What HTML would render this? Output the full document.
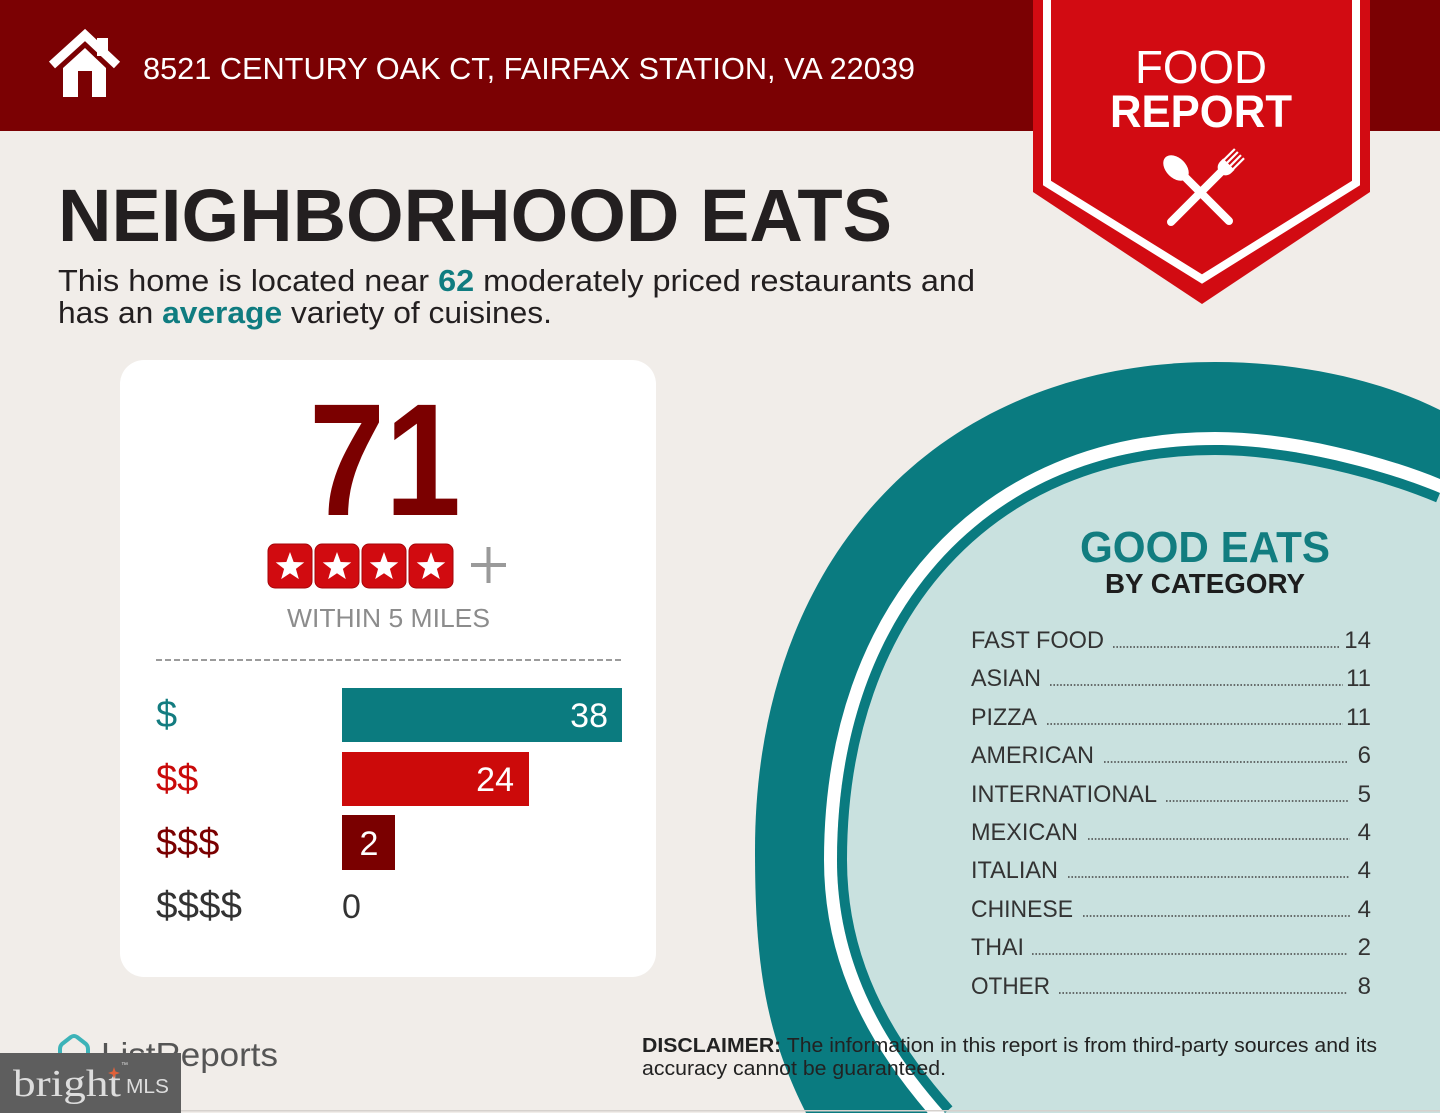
<!DOCTYPE html>
<html>
<head>
<meta charset="utf-8">
<style>
html,body{margin:0;padding:0;background:#f1ede9;width:1440px;height:1113px;overflow:hidden;}
svg{display:block}
</style>
</head>
<body>
<svg width="1440" height="1113" viewBox="0 0 1440 1113" xmlns="http://www.w3.org/2000/svg" font-family="'Liberation Sans', Arial, sans-serif">
  <defs>
    <clipPath id="inner">
      <path d="M945,1113 C880,1040 837,960 837,860 C837,611 988.2,445 1215,445 C1290,445 1380,468 1440,493 L1440,1113 Z"/>
    </clipPath>
  </defs>
  <!-- background -->
  <rect width="1440" height="1113" fill="#f1ede9"/>
  <!-- header -->
  <rect width="1440" height="131" fill="#7b0103"/>
  <!-- house icon -->
  <polyline points="52,65 85,35 117,65" fill="none" stroke="#ffffff" stroke-width="9" stroke-linejoin="miter"/>
  <rect x="97" y="38" width="11" height="18" fill="#ffffff"/>
  <polygon points="63,68 85,48 106,68 106,97 92,97 92,71 78,71 78,97 63,97" fill="#ffffff"/>
  <text x="143" y="79" font-size="31" fill="#ffffff" textLength="772" lengthAdjust="spacingAndGlyphs">8521 CENTURY OAK CT, FAIRFAX STATION, VA 22039</text>

  <!-- badge -->
  <polygon points="1033,0 1370,0 1370,192 1202,304 1033,192" fill="#d20b12"/>
  <polyline points="1047,0 1047,183 1202,279 1356,183 1356,0" fill="none" stroke="#ffffff" stroke-width="8"/>
  <text x="1135" y="83" font-size="46" fill="#ffffff" textLength="132" lengthAdjust="spacingAndGlyphs">FOOD</text>
  <text x="1110" y="127" font-size="45" font-weight="bold" fill="#ffffff" textLength="182" lengthAdjust="spacingAndGlyphs">REPORT</text>
  <!-- spoon -->
  <line x1="1186" y1="178" x2="1229" y2="221" stroke="#ffffff" stroke-width="8" stroke-linecap="round"/>
  <ellipse cx="1176" cy="168" rx="10" ry="15" transform="rotate(-45 1176 168)" fill="#ffffff"/>
  <!-- fork -->
  <line x1="1171" y1="222" x2="1222" y2="171" stroke="#ffffff" stroke-width="8" stroke-linecap="round"/>
  <g transform="translate(1226,167) rotate(45)">
    <path d="M-8,-4 L8,-4 L8,0 Q8,7 0,9 Q-8,7 -8,0 Z" fill="#ffffff"/>
    <line x1="-6.5" y1="-3" x2="-6.5" y2="-19" stroke="#ffffff" stroke-width="2.2"/>
    <line x1="-2.2" y1="-3" x2="-2.2" y2="-19" stroke="#ffffff" stroke-width="2.2"/>
    <line x1="2.2" y1="-3" x2="2.2" y2="-19" stroke="#ffffff" stroke-width="2.2"/>
    <line x1="6.5" y1="-3" x2="6.5" y2="-19" stroke="#ffffff" stroke-width="2.2"/>
  </g>

  <!-- headline -->
  <text x="58" y="241" font-size="74" font-weight="bold" fill="#231f20" textLength="834" lengthAdjust="spacingAndGlyphs">NEIGHBORHOOD EATS</text>
  <text x="58" y="291" font-size="31" fill="#231f20" textLength="917" lengthAdjust="spacingAndGlyphs">This home is located near <tspan font-weight="bold" fill="#0f7c80">62</tspan> moderately priced restaurants and</text>
  <text x="58" y="323" font-size="31" fill="#231f20" textLength="494" lengthAdjust="spacingAndGlyphs">has an <tspan font-weight="bold" fill="#0f7c80">average</tspan> variety of cuisines.</text>

  <!-- card -->
  <rect x="120" y="360" width="536" height="617" rx="24" ry="24" fill="#ffffff"/>
  <text x="309" y="515" font-size="160" font-weight="bold" fill="#7b0000" textLength="152" lengthAdjust="spacingAndGlyphs">71</text>

  <!-- stars -->
  <g>
    <rect x="268" y="544" width="44" height="44" rx="7" fill="#d10b10" stroke="#a50509" stroke-width="1"/>
    <rect x="315" y="544" width="44" height="44" rx="7" fill="#d10b10" stroke="#a50509" stroke-width="1"/>
    <rect x="362" y="544" width="44" height="44" rx="7" fill="#d10b10" stroke="#a50509" stroke-width="1"/>
    <rect x="409" y="544" width="44" height="44" rx="7" fill="#d10b10" stroke="#a50509" stroke-width="1"/>
    <polygon transform="translate(290,567)" points="0,-15 3.64,-5.02 14.27,-4.64 5.9,1.92 8.82,12.14 0,6.2 -8.82,12.14 -5.9,1.92 -14.27,-4.64 -3.64,-5.02" fill="#ffffff"/>
    <polygon transform="translate(337,567)" points="0,-15 3.64,-5.02 14.27,-4.64 5.9,1.92 8.82,12.14 0,6.2 -8.82,12.14 -5.9,1.92 -14.27,-4.64 -3.64,-5.02" fill="#ffffff"/>
    <polygon transform="translate(384,567)" points="0,-15 3.64,-5.02 14.27,-4.64 5.9,1.92 8.82,12.14 0,6.2 -8.82,12.14 -5.9,1.92 -14.27,-4.64 -3.64,-5.02" fill="#ffffff"/>
    <polygon transform="translate(431,567)" points="0,-15 3.64,-5.02 14.27,-4.64 5.9,1.92 8.82,12.14 0,6.2 -8.82,12.14 -5.9,1.92 -14.27,-4.64 -3.64,-5.02" fill="#ffffff"/>
  </g>
  <line x1="471" y1="565" x2="506" y2="565" stroke="#9a9a9a" stroke-width="4"/>
  <line x1="488.5" y1="547" x2="488.5" y2="583" stroke="#9a9a9a" stroke-width="4"/>
  <text x="287" y="627" font-size="26" fill="#8c8c8c" textLength="203" lengthAdjust="spacingAndGlyphs">WITHIN 5 MILES</text>
  <line x1="156" y1="660" x2="622" y2="660" stroke="#9b9b9b" stroke-width="2" stroke-dasharray="6 3"/>

  <!-- bars -->
  <rect x="342" y="688" width="280" height="54" fill="#0b7b7f"/>
  <text x="608" y="727" font-size="34" fill="#ffffff" text-anchor="end">38</text>
  <rect x="342" y="752" width="187" height="54" fill="#cc0a0a"/>
  <text x="514" y="791" font-size="34" fill="#ffffff" text-anchor="end">24</text>
  <rect x="342" y="815" width="53" height="55" fill="#7a0000"/>
  <text x="369" y="855" font-size="34" fill="#ffffff" text-anchor="middle">2</text>
  <text x="342" y="918" font-size="34" fill="#333333">0</text>

  <text x="156" y="727" font-size="38" fill="#137c80">$</text>
  <text x="156" y="791" font-size="38" fill="#c90a0a">$$</text>
  <text x="156" y="855" font-size="38" fill="#7a0000">$$$</text>
  <text x="156" y="918" font-size="38" fill="#333333" textLength="86" lengthAdjust="spacingAndGlyphs">$$$$</text>

  <!-- circle: outer teal -->
  <path d="M806,1113 C764,1030 755,960 755,850 C755,557.2 939,362 1215,362 C1300,362 1380,380 1440,410 L1440,1113 Z" fill="#0a7b80"/>
  <!-- white band -->
  <path d="M945,1113 C880,1040 837,960 837,860 C837,611 988.2,445 1215,445 C1290,445 1380,468 1440,493" fill="none" stroke="#ffffff" stroke-width="26"/>
  <!-- light interior -->
  <path d="M945,1113 C880,1040 837,960 837,860 C837,611 988.2,445 1215,445 C1290,445 1380,468 1440,493 L1440,1113 Z" fill="#c9e1df"/>
  <!-- inner teal thin band -->
  <path clip-path="url(#inner)" d="M945,1113 C880,1040 837,960 837,860 C837,611 988.2,445 1215,445 C1290,445 1380,468 1440,493" fill="none" stroke="#0a7b80" stroke-width="20"/>

  <text x="1080" y="562" font-size="44" font-weight="bold" fill="#127d80" textLength="250" lengthAdjust="spacingAndGlyphs">GOOD EATS</text>
  <text x="1105" y="593" font-size="28" font-weight="bold" fill="#1d1d1d" textLength="200" lengthAdjust="spacingAndGlyphs">BY CATEGORY</text>

  <g font-size="24" fill="#333333">
    <text x="971" y="648" textLength="133" lengthAdjust="spacingAndGlyphs">FAST FOOD</text>
    <text x="971" y="686" textLength="70" lengthAdjust="spacingAndGlyphs">ASIAN</text>
    <text x="971" y="725" textLength="66" lengthAdjust="spacingAndGlyphs">PIZZA</text>
    <text x="971" y="763" textLength="123" lengthAdjust="spacingAndGlyphs">AMERICAN</text>
    <text x="971" y="802" textLength="186" lengthAdjust="spacingAndGlyphs">INTERNATIONAL</text>
    <text x="971" y="840" textLength="107" lengthAdjust="spacingAndGlyphs">MEXICAN</text>
    <text x="971" y="878" textLength="87" lengthAdjust="spacingAndGlyphs">ITALIAN</text>
    <text x="971" y="917" textLength="102" lengthAdjust="spacingAndGlyphs">CHINESE</text>
    <text x="971" y="955" textLength="53" lengthAdjust="spacingAndGlyphs">THAI</text>
    <text x="971" y="994" textLength="79" lengthAdjust="spacingAndGlyphs">OTHER</text>
  </g>
  <g font-size="24" fill="#333333" text-anchor="end">
    <text x="1371" y="648">14</text>
    <text x="1371" y="686">11</text>
    <text x="1371" y="725">11</text>
    <text x="1371" y="763">6</text>
    <text x="1371" y="802">5</text>
    <text x="1371" y="840">4</text>
    <text x="1371" y="878">4</text>
    <text x="1371" y="917">4</text>
    <text x="1371" y="955">2</text>
    <text x="1371" y="994">8</text>
  </g>
  <g stroke="#444444" stroke-width="1.6" stroke-dasharray="1.6 1.8">
    <line x1="1113" y1="647" x2="1340" y2="647"/>
    <line x1="1050" y1="685" x2="1343" y2="685"/>
    <line x1="1047" y1="724" x2="1343" y2="724"/>
    <line x1="1104" y1="762" x2="1348" y2="762"/>
    <line x1="1166" y1="801" x2="1348" y2="801"/>
    <line x1="1088" y1="839" x2="1350" y2="839"/>
    <line x1="1068" y1="877" x2="1350" y2="877"/>
    <line x1="1083" y1="916" x2="1350" y2="916"/>
    <line x1="1032" y1="954" x2="1348" y2="954"/>
    <line x1="1059" y1="993" x2="1348" y2="993"/>
  </g>

  <!-- disclaimer -->
  <text x="642" y="1052" font-size="20" fill="#222222" textLength="735" lengthAdjust="spacingAndGlyphs"><tspan font-weight="bold">DISCLAIMER:</tspan> The information in this report is from third-party sources and its</text>
  <text x="642" y="1075" font-size="20" fill="#222222" textLength="304" lengthAdjust="spacingAndGlyphs">accuracy cannot be guaranteed.</text>

  <!-- ListReports logo -->
  <path d="M60,1062 L60,1049 Q60,1046 62,1044 L71,1037 Q74,1035 77,1037 L86,1044 Q88,1046 88,1049 L88,1062" fill="none" stroke="#3db3b8" stroke-width="4" stroke-linejoin="round"/>
  <text x="101" y="1066" font-size="33" fill="#555555" textLength="177" lengthAdjust="spacingAndGlyphs">ListReports</text>

  <!-- bright MLS watermark -->
  <rect x="0" y="1053" width="181" height="60" fill="#5e5e5e"/>
  <text x="13" y="1096" font-family="'Liberation Serif', serif" font-size="38" fill="#dddddd" textLength="108" lengthAdjust="spacingAndGlyphs">bright</text>
  <path d="M114,1067 L115.5,1071.5 L120,1073 L115.5,1074.5 L114,1079 L112.5,1074.5 L108,1073 L112.5,1071.5 Z" fill="#e0613a"/>
  <text x="121" y="1067" font-size="7" fill="#dddddd">™</text>
  <text x="126" y="1093" font-size="20" fill="#dddddd" textLength="43" lengthAdjust="spacingAndGlyphs">MLS</text>

  <rect x="181" y="1110" width="1259" height="1.5" fill="#d6d1cd"/>
</svg>
</body>
</html>
